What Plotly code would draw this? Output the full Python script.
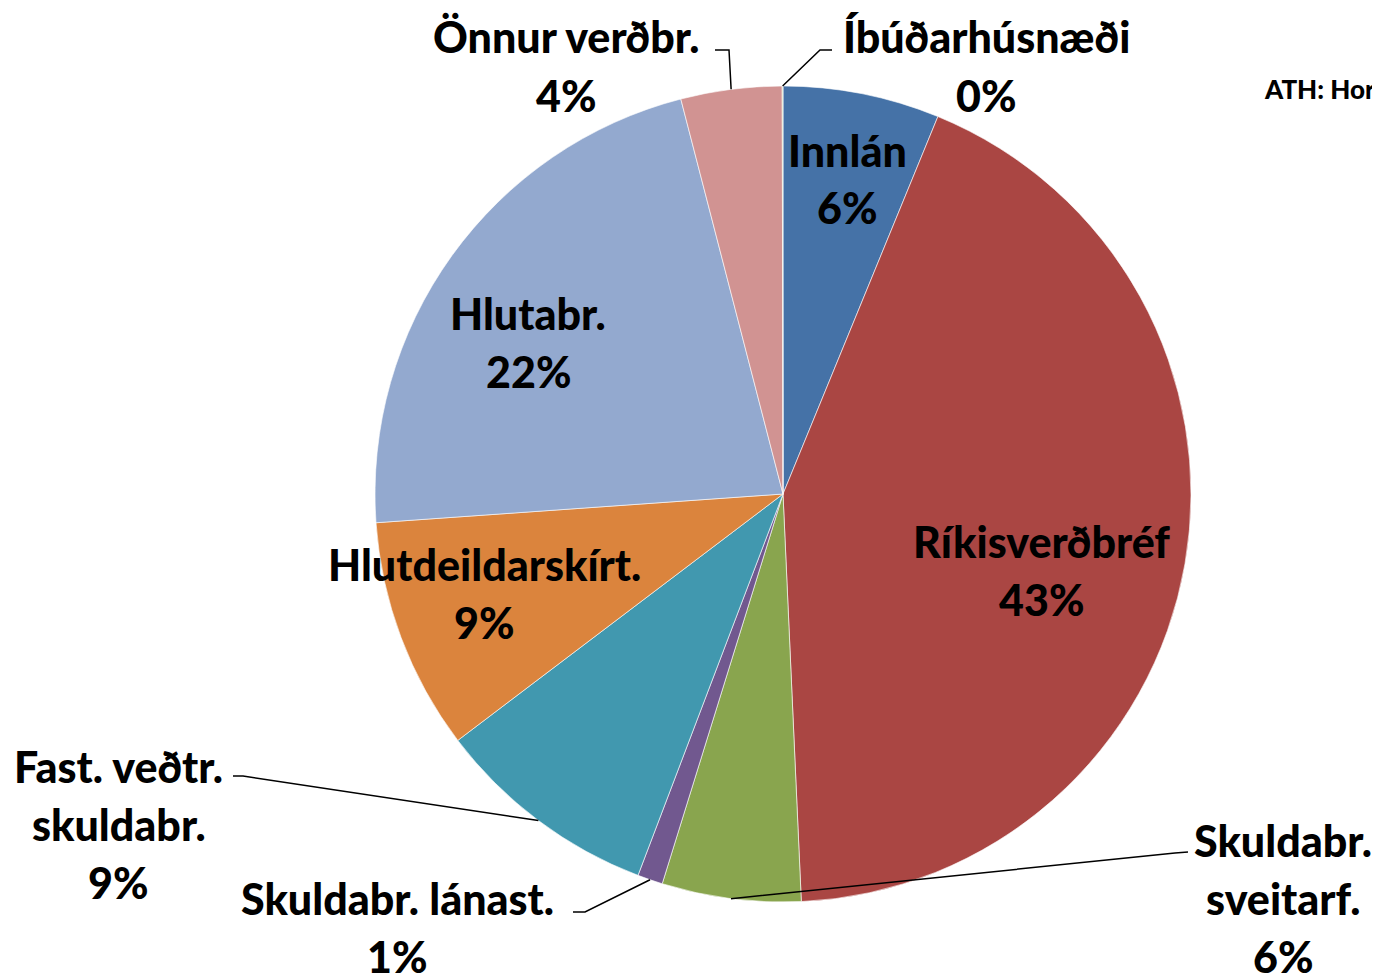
import math
import plotly.graph_objects as go

# ---- data ----
labels = ["Innlán", "Ríkisverðbréf", "Skuldabr. sveitarf.", "Skuldabr. lánast.",
          "Fast. veðtr. skuldabr.", "Hlutdeildarskírt.", "Hlutabr.", "Önnur verðbr.",
          "Íbúðarhúsnæði"]
values = [6.2, 43.1, 5.5, 1.0, 8.9, 9.2, 22.1, 4.0, 0.03]
pct_labels = ["6%", "43%", "6%", "1%", "9%", "9%", "22%", "4%", "0%"]
colors = ["#4572A7", "#AA4643", "#89A54E", "#71588F", "#4198AF",
          "#DB843D", "#93A9CF", "#D19392", "#B9CD96"]

W, H = 1380, 974
OFF = 8  # page body margin: screen px = figure px + 8
CX, CY, R = 783, 494, 408   # in screen pixels
FONT = "Lato, 'Open Sans', sans-serif"
FS = 43
LINE = 58

def px(x):
    return (x - OFF) / W

def py(y):
    return 1 - (y - OFF) / H

fig = go.Figure(go.Pie(
    labels=labels, values=values, sort=False, direction="clockwise", rotation=0,
    marker=dict(colors=colors, line=dict(color="rgba(255,255,255,0.6)", width=1)),
    textinfo="none", hoverinfo="label+percent", showlegend=False,
    domain=dict(x=[px(CX - R), px(CX + R)], y=[py(CY + R), py(CY - R)]),
))

# label text lines: (first line center x, first line center y, lines)
label_layout = {
    0: (847, 150, ["Innlán"]),
    1: (1041, 541, ["Ríkisverðbréf"]),
    2: (1283, 840, ["Skuldabr.", "sveitarf."]),
    3: (398, 898, ["Skuldabr. lánast."]),
    4: (119, 766, ["Fast. veðtr.", "skuldabr."]),
    5: (484, 564, ["Hlutdeildarskírt."]),
    6: (528, 313, ["Hlutabr."]),
    7: (566, 37, ["Önnur verðbr."]),
    8: (986, 37, ["Íbúðarhúsnæði"]),
}

annotations = []
for i, (x0, y0, lines) in label_layout.items():
    all_lines = lines + [pct_labels[i]]
    for k, t in enumerate(all_lines):
        annotations.append(dict(
            x=px(x0), y=py(y0 + k * LINE), xref="paper", yref="paper",
            text=t, showarrow=False, xanchor="center", yanchor="middle",
            font=dict(family=FONT, size=FS, color="black", weight=900)))

annotations.append(dict(
    x=px(1262), y=py(89), xref="paper", yref="paper", text="ATH: Hor",
    showarrow=False, xanchor="left", yanchor="middle",
    font=dict(family=FONT, size=26, color="black", weight=900)))

# leader lines: start at the slice mid-angle on the rim, then bend to the label
total = sum(values)
cum = 0
mids = []
for v in values:
    mids.append((cum + v / 2) / total * 2 * math.pi)
    cum += v

leader_bends = {
    2: [(1175, 853), (1188, 852)],
    3: [(585, 912), (573, 912)],
    4: [(243, 776), (233, 776)],
    7: [(729, 50), (715, 50)],
    8: [(820, 50), (832, 50)],
}

shapes = []
for i, pts in leader_bends.items():
    a = mids[i]
    sx = CX + R * math.sin(a)
    sy = CY - R * math.cos(a)
    path_pts = [(sx, sy)] + pts
    path = "M " + " L ".join(f"{px(x)},{py(y)}" for x, y in path_pts)
    shapes.append(dict(type="path", path=path, xref="paper", yref="paper",
                       line=dict(color="black", width=1.5)))

fig.update_layout(
    width=W, height=H, margin=dict(l=0, r=0, t=0, b=0),
    paper_bgcolor="white", plot_bgcolor="white",
    annotations=annotations, shapes=shapes,
)

fig.write_html("out.html")
